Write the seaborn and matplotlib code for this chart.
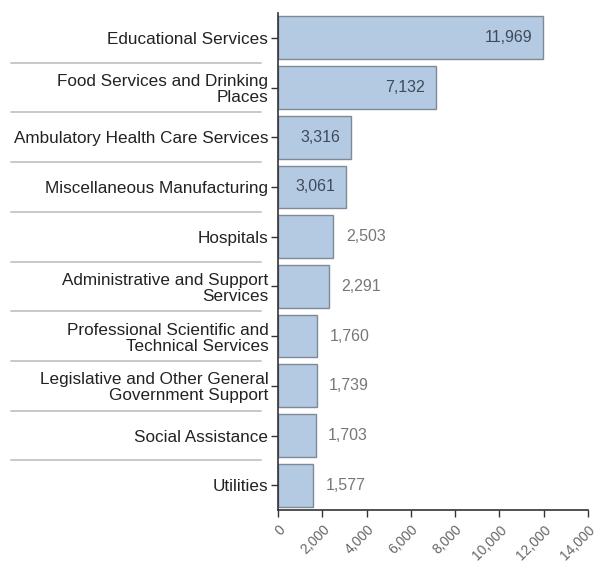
import matplotlib
matplotlib.use("Agg")
import matplotlib.pyplot as plt
import matplotlib.transforms as mtransforms
import seaborn as sns
import pandas as pd

industries = [
    "Educational Services",
    "Food Services and Drinking\nPlaces",
    "Ambulatory Health Care Services",
    "Miscellaneous Manufacturing",
    "Hospitals",
    "Administrative and Support\nServices",
    "Professional Scientific and\nTechnical Services",
    "Legislative and Other General\nGovernment Support",
    "Social Assistance",
    "Utilities",
]
employees = [11969, 7132, 3316, 3061, 2503, 2291, 1760, 1739, 1703, 1577]
x_ticks = [0, 2000, 4000, 6000, 8000, 10000, 12000, 14000]

sns.set_style("white")
plt.rcParams["font.family"] = ["Liberation Sans", "DejaVu Sans"]

df = pd.DataFrame({"industry": industries, "employees": employees})

fig = plt.figure(figsize=(5.98, 5.63), dpi=100)
ax = fig.add_axes([0.465, 0.094, 0.518, 0.883])

sns.barplot(data=df, y="industry", x="employees", orient="h", ax=ax,
            color="#b3cae2", saturation=1, width=0.86,
            edgecolor="#7f8a96", linewidth=1.0)

ax.set_xlim(0, 14000)
ax.set_ylim(len(industries) - 0.5, -0.5)
ax.set_xticks(x_ticks)
ax.set_xticklabels([f"{v:,}" for v in x_ticks], rotation=45,
                   ha="right", rotation_mode="anchor", color="#666666", fontsize=10)
ax.set_yticks(range(len(industries)))
ax.set_yticklabels(industries, fontsize=12.3, color="#222222", linespacing=1.08)
ax.set_xlabel("")
ax.set_ylabel("")

# nudge the slanted tick labels a little to the right of their ticks
shift = mtransforms.ScaledTranslation(2 / 100, 0, fig.dpi_scale_trans)
for lbl in ax.get_xticklabels():
    lbl.set_transform(lbl.get_transform() + shift)

for side in ["top", "right"]:
    ax.spines[side].set_visible(False)
for side in ["left", "bottom"]:
    ax.spines[side].set_color("#333333")
    ax.spines[side].set_linewidth(1.2)
ax.tick_params(axis="both", which="major", length=5, width=1, color="#333333",
               bottom=True, left=True)
ax.tick_params(axis="y", pad=2)
ax.tick_params(axis="x", pad=4)

# value labels: inside the long bars, outside the short ones
for i, v in enumerate(employees):
    txt = f"{v:,}"
    if v >= 3000:
        ax.text(v - 480, i, txt, ha="right", va="center", fontsize=11.5, color="#3d4b5a")
    else:
        ax.text(v + 560, i, txt, ha="left", va="center", fontsize=11.5, color="#777777")

# faint separators between category labels
trans = ax.get_yaxis_transform()
for i in range(len(industries) - 1):
    ax.plot([-0.862, -0.055], [i + 0.5, i + 0.5], transform=trans,
            color="#c4c4c4", linewidth=1.3, clip_on=False)

fig.savefig("out.png", dpi=100, facecolor="white")
